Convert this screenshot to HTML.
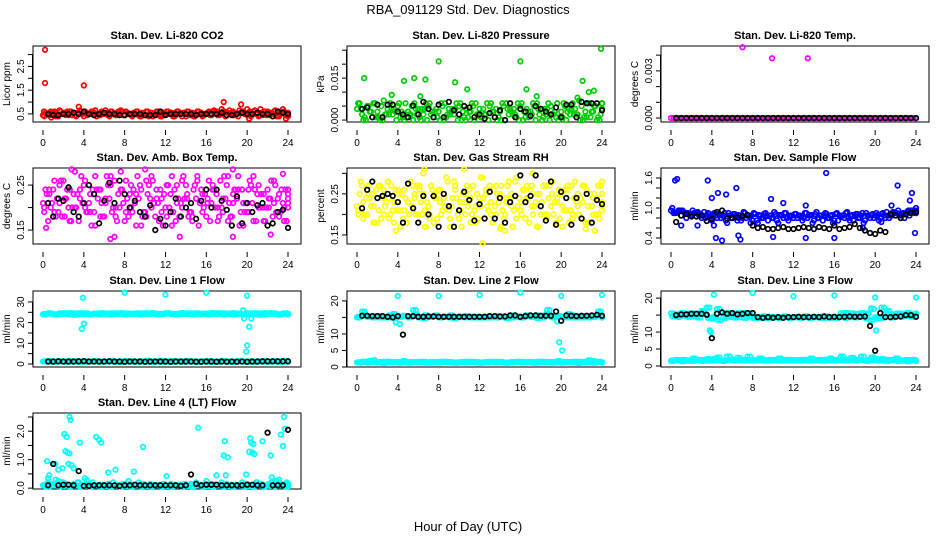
<!DOCTYPE html>
<html><head><meta charset="utf-8"><style>
html,body{margin:0;padding:0;background:#fff;}
svg{display:block;font-family:"Liberation Sans",Arial,sans-serif;}
</style></head><body>
<svg id="chart" width="936" height="540" viewBox="0 0 936 540" xmlns="http://www.w3.org/2000/svg">
<text x="468" y="14" font-size="13" text-anchor="middle">RBA_091129  Std. Dev. Diagnostics</text>
<text x="468" y="531" font-size="13" text-anchor="middle">Hour of Day (UTC)</text>
</svg>
<script>
// ---------- data ----------
const xTicks = [0,4,8,12,16,20,24];
// CO2 panel
const co2Red1 = [0.45,0.5,0.55,0.4,0.5,0.45,0.55,0.5,0.4,0.5,0.55,0.45,0.5,0.4,0.5,0.55,0.45,0.5,0.5,0.4,0.45,0.55,0.5,0.4,0.5,0.55,0.45,0.5,0.4,0.5,0.45,0.55,0.5,0.45,0.6,0.5,0.45,0.55,0.5,0.6,0.45,0.5,0.55,0.45,0.6,0.5,0.45,0.55,0.5];
const co2Red2 = [0.55,0.6,0.4,0.6,0.45,0.6,0.4,0.6,0.55,0.6,0.4,0.6,0.55,0.6,0.45,0.6,0.55,0.4,0.6,0.55,0.6,0.4,0.6,0.55,0.6,0.4,0.6,0.55,0.6,0.4,0.6,0.45,0.6,0.65,0.45,0.6,0.65,0.45,0.65,0.5,0.6,0.65,0.45,0.6,0.55,0.65,0.6,0.45,0.4];
const co2OutX = [0.1,0.2,0.2,3.5,4.0,17.7,17.5,19.4,20.0,21.3,23.5,23.8,20.2,0.8];
const co2OutY = [0.6,3.2,1.8,0.8,1.7,1.0,0.7,0.9,0.7,0.7,0.7,0.3,0.3,0.35];
const co2Black = [0.5,0.45,0.45,0.5,0.5,0.55,0.5,0.6,0.5,0.45,0.5,0.55,0.5,0.5,0.45,0.45,0.5,0.5,0.5,0.45,0.45,0.45,0.6,0.45,0.5,0.5,0.5,0.5,0.5,0.45,0.5,0.5,0.5,0.5,0.55,0.45,0.45,0.5,0.55,0.5,0.5,0.55,0.5,0.5,0.4,0.6,0.55,0.5];
// Pressure panel
const presGreen1 = [0.004,0.002,0.005,0.001,0.003,0.0,0.004,0.002,0.005,0.001,0.003,0.0,0.004,0.002,0.005,0.001,0.003,0.0,0.004,0.002,0.005,0.001,0.003,0.0,0.004,0.002,0.005,0.001,0.003,0.0,0.004,0.002,0.005,0.001,0.003,0.0,0.004,0.002,0.005,0.001,0.003,0.0,0.004,0.002,0.005,0.001,0.003,0.0,0.004];
const presGreen2 = [0.006,0.001,0.003,0.006,0.0,0.002,0.006,0.003,0.001,0.006,0.002,0.004,0.0,0.006,0.002,0.004,0.006,0.001,0.003,0.006,0.0,0.004,0.006,0.002,0.001,0.006,0.003,0.0,0.006,0.004,0.002,0.006,0.0,0.003,0.006,0.004,0.001,0.006,0.002,0.0,0.006,0.004,0.002,0.007,0.001,0.006,0.005,0.0,0.006];
const presOutX = [0.7,3.4,4.6,5.6,6.2,6.7,8.0,9.6,10.8,16.0,16.6,17.6,21.6,22.1,22.7,23.2,23.9];
const presOutY = [0.015,0.009,0.014,0.015,0.0085,0.0145,0.021,0.0135,0.011,0.021,0.011,0.0085,0.008,0.014,0.01,0.0105,0.0255];
const presBlack = [0.004,0.0045,0.001,0.0055,0.001,0.0055,0.0055,0.003,0.002,0.001,0.0052,0.002,0.0065,0.004,0.001,0.0055,0.001,0.0065,0.0035,0.002,0.005,0.0045,0.001,0.002,0.0005,0.0025,0.001,0.0035,0.0,0.006,0.001,0.004,0.003,0.0015,0.005,0.004,0.003,0.002,0.0045,0.001,0.0055,0.0055,0.001,0.0065,0.006,0.006,0.006,0.0035];
// Li-820 Temp panel
const tempMag = [0,0,0,0,0,0,0,0,0,0,0,0,0,0,0,0,0,0,0,0,0,0,0,0,0,0,0,0,0,0,0,0,0,0,0,0,0,0,0,0,0,0,0,0,0,0,0,0,0];
const tempOutX = [7.0,9.9,13.4];
const tempOutY = [0.0045,0.0038,0.0038];
const tempBlack = [0,0,0,0,0,0,0,0,0,0,0,0,0,0,0,0,0,0,0,0,0,0,0,0,0,0,0,0,0,0,0,0,0,0,0,0,0,0,0,0,0,0,0,0,0,0,0,0];
// Amb box temp panel
const ambMag1 = [0.21,0.17,0.24,0.19,0.26,0.2,0.23,0.17,0.25,0.21,0.19,0.24,0.18,0.22,0.26,0.2,0.17,0.23,0.21,0.25,0.19,0.22,0.18,0.24,0.2,0.23,0.17,0.21,0.25,0.19,0.22,0.24,0.18,0.21,0.23,0.2,0.25,0.18,0.22,0.24,0.19,0.21,0.23,0.2,0.24,0.18,0.22,0.21,0.23];
const ambMag2 = [0.24,0.2,0.18,0.26,0.22,0.17,0.2,0.27,0.19,0.16,0.24,0.21,0.27,0.19,0.17,0.24,0.22,0.19,0.27,0.18,0.23,0.26,0.21,0.16,0.25,0.19,0.22,0.27,0.18,0.24,0.16,0.2,0.26,0.24,0.18,0.27,0.21,0.24,0.16,0.19,0.26,0.24,0.2,0.17,0.22,0.25,0.19,0.24,0.2];
const ambMag3 = [0.19,0.23,0.26,0.21,0.18,0.24,0.28,0.22,0.2,0.23,0.27,0.18,0.22,0.25,0.2,0.28,0.19,0.25,0.23,0.16,0.26,0.2,0.24,0.22,0.18,0.27,0.25,0.2,0.22,0.17,0.26,0.23,0.21,0.25,0.2,0.22,0.17,0.23,0.27,0.21,0.24,0.17,0.25,0.23,0.2,0.21,0.23,0.17,0.22];
const ambOutX = [0.3,2.8,6.6,7.0,10.0,13.4,18.6,18.6,22.3,23.5];
const ambOutY = [0.155,0.285,0.13,0.135,0.285,0.135,0.285,0.135,0.14,0.275];
const ambBlack = [0.21,0.18,0.22,0.215,0.245,0.19,0.18,0.21,0.25,0.23,0.165,0.215,0.255,0.21,0.26,0.23,0.2,0.215,0.19,0.18,0.205,0.15,0.175,0.16,0.19,0.22,0.18,0.2,0.21,0.175,0.215,0.24,0.2,0.24,0.215,0.195,0.16,0.225,0.165,0.21,0.19,0.205,0.21,0.16,0.165,0.19,0.195,0.155];
// RH panel
const rhYel1 = [0.22,0.27,0.2,0.25,0.18,0.24,0.28,0.21,0.26,0.19,0.23,0.27,0.2,0.25,0.22,0.18,0.26,0.24,0.21,0.28,0.19,0.23,0.26,0.21,0.24,0.19,0.27,0.22,0.25,0.2,0.24,0.28,0.21,0.19,0.26,0.23,0.2,0.27,0.22,0.18,0.25,0.21,0.27,0.23,0.19,0.26,0.22,0.24,0.28];
const rhYel2 = [0.25,0.2,0.24,0.18,0.27,0.22,0.2,0.26,0.17,0.24,0.28,0.2,0.23,0.17,0.27,0.24,0.2,0.29,0.22,0.24,0.17,0.27,0.2,0.25,0.29,0.22,0.18,0.25,0.21,0.27,0.17,0.22,0.26,0.24,0.2,0.17,0.27,0.24,0.2,0.26,0.21,0.18,0.24,0.2,0.27,0.18,0.25,0.19,0.21];
const rhYel3 = [0.2,0.23,0.27,0.22,0.21,0.26,0.19,0.23,0.25,0.21,0.2,0.25,0.26,0.21,0.19,0.25,0.23,0.22,0.19,0.26,0.23,0.2,0.24,0.18,0.22,0.26,0.23,0.2,0.27,0.23,0.25,0.19,0.23,0.27,0.22,0.25,0.23,0.19,0.25,0.23,0.22,0.27,0.19,0.25,0.23,0.22,0.2,0.27,0.23];
const rhOutX = [3.8,6.5,6.6,10.5,12.3,14.0,14.5,17.2,22.4,23.3];
const rhOutY = [0.16,0.3,0.31,0.31,0.13,0.165,0.16,0.3,0.165,0.16];
const rhBlack = [0.215,0.26,0.28,0.24,0.245,0.25,0.245,0.23,0.18,0.275,0.215,0.18,0.245,0.2,0.245,0.17,0.25,0.22,0.17,0.21,0.255,0.235,0.185,0.225,0.19,0.255,0.19,0.24,0.18,0.23,0.245,0.295,0.23,0.245,0.295,0.22,0.185,0.28,0.175,0.255,0.24,0.175,0.24,0.19,0.25,0.18,0.235,0.225];
// Sample flow panel
const flowBlue1 = [0.95,0.9,0.85,0.8,0.85,0.9,0.8,0.85,0.75,0.8,0.85,0.7,0.8,0.75,0.8,0.85,0.75,0.7,0.8,0.75,0.8,0.7,0.8,0.75,0.8,0.85,0.8,0.85,0.75,0.8,0.85,0.8,0.75,0.85,0.8,0.75,0.85,0.8,0.75,0.8,0.85,0.8,0.8,0.85,0.9,0.85,0.9,0.95,0.9];
const flowBlue2 = [0.9,0.95,0.92,0.88,0.9,0.85,0.92,0.88,0.9,0.86,0.9,0.85,0.88,0.84,0.9,0.82,0.88,0.84,0.9,0.85,0.88,0.86,0.9,0.85,0.88,0.84,0.9,0.86,0.92,0.85,0.88,0.86,0.9,0.85,0.92,0.86,0.88,0.9,0.85,0.88,0.86,0.9,0.85,0.92,0.95,0.9,0.95,0.92,1.0];
const flowOutX = [0.4,0.6,1.0,2.6,3.6,4.0,4.2,4.4,4.6,5.0,5.4,6.4,6.6,6.8,7.8,9.8,10.0,11.0,13.2,13.2,15.2,16.0,18.8,20.6,21.6,22.2,23.4,23.6,23.9];
const flowOutY = [1.55,1.58,0.65,0.65,1.55,1.2,0.65,0.4,1.3,0.35,1.27,1.4,0.45,0.37,0.7,1.18,0.42,1.1,0.4,1.05,1.7,0.4,0.6,0.72,1.05,1.45,1.15,1.3,0.5];
const flowBlack = [0.72,0.85,0.88,0.83,0.83,0.85,0.74,0.78,0.92,0.95,0.79,0.8,0.81,0.84,0.86,0.65,0.6,0.62,0.58,0.58,0.6,0.62,0.58,0.58,0.6,0.62,0.6,0.58,0.62,0.6,0.58,0.65,0.58,0.6,0.62,0.68,0.6,0.55,0.5,0.48,0.55,0.52,0.88,0.85,0.8,0.87,0.9,0.92];
// Line 1 flow
const l1CyanHi = [24,24.5,24,24.2,24.5,24,23.8,24.5,24.2,24,24.4,24,24.2,24,24.5,24.2,24,24.3,24.2,24,24.5,24.2,24.3,24.2,24.5,24.2,24,24.6,24.2,24.4,24.5,24.2,24.4,24.6,24.2,24.5,24.4,24.6,24.2,24,24.5,24.2,24.4,24.6,24.2,24.5,24,24.4,24.2];
const l1CyanLo = [1.2,1.5,1,1.3,1.2,1.5,1.2,1,1.3,1.2,1.5,1.1,1.2,1.3,1.1,1.2,1.5,1.2,1.1,1.3,1.2,1,1.2,1.5,1.2,1.1,1.3,1.2,1.5,1.2,1.1,1.3,1.2,1,1.2,1.5,1.2,1.1,1.3,1.2,1.1,1.2,1.3,1.2,1.1,1.3,1.2,1.2,1.3];
const l1OutX = [3.9,3.8,4.0,8.0,12.0,16.0,20.0,20.0,19.9,20.2,20.3,19.7,19.6,20.4];
const l1OutY = [32,17,19.5,34.5,33.5,34.5,33,9,6,18,24,22,26,22];
const l1Black = [1.2,1.2,1.3,1.2,1.2,1.2,1.3,1.4,1.2,1.2,1.2,1.2,1.3,1.2,1.2,1.1,1.2,1.2,1.2,1.1,1.2,1.2,1.2,1.2,1.1,1.2,1.2,1.2,1.2,1.1,1.1,1.2,1.2,1.1,1.2,1.1,1.2,1.1,1.2,1.1,1.2,1.2,1.3,1.3,1.3,1.3,1.3,1.3];
// Line 2 flow
const l2CyanHi = [15,16.8,15.2,15,15.4,15,15,16,15.2,15.5,15,17.2,15,14.8,15.2,15.4,15,15.2,15,14.8,15.2,15,15.2,15,15,15.2,15,15.4,15.2,15,15.6,15.2,15,15.6,15.2,15.6,15,16,15.2,15.4,15.2,15,15.6,15.2,15,15.4,15.2,15.6,15.2];
const l2CyanLo = [1.4,1.6,1.3,2,1.5,1.2,1.6,1.4,1.5,1.8,1.3,1.5,1.4,1.6,1.3,1.5,1.4,1.6,1.5,1.3,1.4,1.6,1.5,1.4,1.3,1.5,1.6,1.4,1.5,1.3,1.4,1.5,1.6,1.4,1.5,1.3,1.6,1.4,1.5,1.4,1.3,1.5,1.4,1.6,1.5,1.4,1.8,1.5,1.4];
const l2OutX = [3.8,4.2,4.0,8.0,12.0,16.0,20.0,24.0,19.8,20.1,19.6];
const l2OutY = [13.5,13,21.5,21.5,21.8,22.5,21.5,21.8,7.5,5,13.8];
const l2Black = [15.5,15.5,15.4,15.4,15.4,15.2,15,15.4,9.8,15.4,15.4,15.2,15.2,15.3,15.3,15.2,15.2,15.2,15.2,15.2,15.2,15.2,15.2,15.2,15.2,15.4,15.4,15.3,15.3,15.6,15.6,15.2,15.4,15.6,15.6,15.5,15.5,15.5,16.8,14,15.6,15.5,15.4,15.5,15.5,15.6,15.8,15.5];
// Line 3 flow
const l3CyanHi = [15.5,15.2,15.6,15.4,15.5,15.2,16.2,17.2,14,16.8,15.5,15.6,15.4,15.5,15.6,15.5,14.2,14.2,14.6,14.2,14.4,14.2,14.6,14.2,14.4,14.3,14.5,14.2,14.4,14.5,14.2,14.4,14.3,14.6,14.2,14.4,14.3,14.5,14.2,13.5,14.4,14.2,15.4,14.3,14.6,14.5,14.8,14.5,14.6];
const l3CyanLo = [1.5,1.8,1.4,1.6,1.5,1.8,1.5,2,1.6,2.5,1.5,2.8,1.8,2.4,1.6,2.8,1.7,1.6,1.8,1.6,1.7,2.2,1.6,1.8,1.7,1.6,1.8,1.6,1.7,1.8,1.6,2.2,1.7,1.6,1.8,1.7,1.6,1.8,1.6,1.7,2,1.6,1.8,1.7,2.2,1.6,1.8,1.7,1.6];
const l3OutX = [3.8,3.9,4.2,8.0,12.0,16.0,20.0,24.0,20.1,19.6];
const l3OutY = [10.5,10,21,21.5,20.5,20.8,20.2,20.2,10.5,17];
const l3Black = [15,15.2,15.2,15.4,15.4,15.4,15.1,8.2,15.4,15.8,15.4,15.6,15.2,15.4,15.6,15.6,14.4,14.2,14.4,14.2,14.4,14.2,14.4,14.4,14.5,14.4,14.4,14.5,14.4,14.6,14.4,14.5,14.4,14.5,14.6,14.5,14.5,14.6,11.8,4.5,15.6,14.4,14.4,14.5,14.6,15,15,14.5];
// Line 4 flow
const l4CyanA = [0.1,0.2,0.15,0.25,0.2,0.1,0.15,0.2,0.1,0.15,0.1,0.12,0.1,0.15,0.1,0.12,0.1,0.15,0.1,0.12,0.1,0.15,0.1,0.12,0.1,0.15,0.1,0.12,0.1,0.15,0.2,0.12,0.25,0.15,0.1,0.2,0.15,0.12,0.1,0.2,0.15,0.1,0.2,0.12,0.1,0.2,0.15,0.1,0.15];
const l4CyanB = [0.05,0.12,0.3,0.08,0.15,0.05,0.1,0.05,0.08,0.05,0.1,0.05,0.08,0.05,0.1,0.05,0.08,0.05,0.1,0.05,0.08,0.05,0.1,0.05,0.08,0.05,0.1,0.05,0.08,0.05,0.1,0.05,0.08,0.05,0.1,0.05,0.08,0.05,0.1,0.05,0.08,0.05,0.1,0.05,0.08,0.05,0.1,0.05,0.08];
const l4OutX = [0.4,0.6,0.5,1.2,1.5,1.9,2.1,2.2,2.3,2.4,2.6,2.7,2.5,2.6,3.0,2.8,3.6,4.1,4.3,5.2,5.5,5.7,6.4,7.1,8.9,9.8,12.1,15.2,17.0,17.7,17.8,17.9,18.1,19.9,20.2,20.3,20.4,20.5,20.6,20.7,21.5,22.3,22.4,23.3,23.5,23.6,23.7];
const l4OutY = [0.95,0.45,0.35,0.85,0.65,0.7,1.9,1.3,1.8,1.25,2.5,2.4,0.85,1.22,0.7,0.8,1.6,0.35,0.28,1.8,1.7,1.6,0.55,0.65,0.58,1.45,0.42,2.12,0.45,1.15,1.65,0.45,1.08,0.48,1.28,1.75,1.6,1.25,1.55,1.2,1.65,1.15,0.38,1.88,1.48,2.5,2.08];
const l4Black = [0.1,0.85,0.1,0.12,0.12,0.1,0.6,0.08,0.08,0.1,0.1,0.1,0.1,0.1,0.08,0.1,0.1,0.12,0.1,0.1,0.1,0.1,0.1,0.1,0.1,0.1,0.08,0.1,0.48,0.15,0.1,0.12,0.12,0.12,0.1,0.1,0.1,0.1,0.1,0.12,0.12,0.1,0.1,1.95,0.1,0.1,0.1,2.05];

// ---------- drawing ----------
const svg = document.getElementById('chart');
const NS = 'http://www.w3.org/2000/svg';
const halfHours = Array.from({length:49},(_,i)=>i*0.5);
const quarterHours = Array.from({length:49},(_,i)=>Math.min(24,i*0.5+0.25));
const eighthHours = Array.from({length:49},(_,i)=>Math.min(24,i*0.5+0.12));
const threeEighthHours = Array.from({length:49},(_,i)=>Math.min(24,i*0.5+0.37));
const blackHours = Array.from({length:48},(_,i)=>i*0.5+0.5);
const colX = [33,347,661], rowY = [46,168,291,413], PW = 268, PH = 76;

function mk(tag, attrs, parent){
  const e = document.createElementNS(NS, tag);
  for (const k in attrs) e.setAttribute(k, attrs[k]);
  (parent||svg).appendChild(e);
  return e;
}
function panel(col,row,title,ylab,ymin,ymax,yticks,ylabels,slug){
  const x0 = colX[col], y0 = rowY[row];
  const g = mk('g',{});
  
  
  const xs = v => x0 + 10 + v*(PW-23)/24;
  const ys = v => y0 + PH - (v-ymin)/(ymax-ymin)*PH;
  const box = mk('rect',{x:x0,y:y0,width:PW,height:PH,fill:'none',stroke:'#000','stroke-width':1},g);
  
  
  const t = mk('text',{x:x0+PW/2,y:y0-7,'font-size':11,'font-weight':'bold','text-anchor':'middle'},g);
  t.textContent = title;
  
  
  const yt = mk('text',{x:0,y:0,'font-size':10,'text-anchor':'middle',transform:`translate(${x0-23},${y0+PH/2}) rotate(-90)`},g);
  yt.textContent = ylab;
  
  
  mk('line',{x1:x0-0.5,x2:x0-0.5,y1:ys(yticks[0]),y2:ys(yticks[yticks.length-1]),stroke:'#000'},g);
  yticks.forEach(v=>{
    mk('line',{x1:x0-5,x2:x0,y1:ys(v),y2:ys(v),stroke:'#000'},g);
  });
  ylabels.forEach(a=>{
    const l = mk('text',{x:0,y:0,'font-size':10,'text-anchor':'middle',transform:`translate(${x0-9},${ys(a[0])}) rotate(-90)`},g);
    l.textContent = a[1];
    
    
  });
  xTicks.forEach(v=>{
    mk('line',{x1:xs(v),x2:xs(v),y1:y0+PH+8,y2:y0+PH+13,stroke:'#000'},g);
    const l = mk('text',{x:xs(v),y:y0+PH+24,'font-size':10,'text-anchor':'middle'},g);
    l.textContent = String(v);
    
    
  });
  const pts = mk('g',{},g);
  
  
  const api = {
    pts:(hours,vals,color)=>{
      vals.forEach((v,i)=>{
        if (hours[i]===undefined) return;
        const c = mk('circle',{cx:xs(hours[i]),cy:ys(v),r:2.3,fill:'none',stroke:color,'stroke-width':1.7},pts);
        
        
      });
    },
    cloud:(a,b,color)=>{
      api.pts(halfHours,a,color);
      api.pts(quarterHours,b,color);
      api.pts(eighthHours,b.slice().reverse(),color);
      api.pts(threeEighthHours,a.slice().reverse(),color);
    }
  };
  return api;
}

let p;
p = panel(0,0,'Stan. Dev. Li-820 CO2','Licor ppm',0.16,3.36,[0.5,1,1.5,2,2.5,3],[[0.5,'0.5'],[1.5,'1.5'],[2.5,'2.5']],'co2');
p.cloud(co2Red1,co2Red2,'#f00'); p.pts(co2OutX,co2OutY,'#f00'); p.pts(blackHours,co2Black,'#000');

p = panel(1,0,'Stan. Dev. Li-820 Pressure','kPa',-0.0007,0.0265,[0,0.005,0.01,0.015,0.02,0.025],[[0,'0.000'],[0.015,'0.015']],'pressure');
p.cloud(presGreen1,presGreen2,'#0c0'); p.pts(presOutX,presOutY,'#0c0'); p.pts(blackHours,presBlack,'#000');

p = panel(2,0,'Stan. Dev. Li-820 Temp.','degrees C',-0.00025,0.00458,[0,0.001,0.002,0.003,0.004],[[0,'0.000'],[0.003,'0.003']],'li820-temp');
p.pts(halfHours,tempMag,'#f0f'); p.pts(quarterHours,tempMag,'#f0f'); p.pts(tempOutX,tempOutY,'#f0f'); p.pts(blackHours,tempBlack,'#000');

p = panel(0,1,'Stan. Dev. Amb. Box Temp.','degrees C',0.119,0.288,[0.15,0.2,0.25],[[0.15,'0.15'],[0.25,'0.25']],'amb-temp');
p.cloud(ambMag1,ambMag2,'#f0f'); p.pts(eighthHours,ambMag3,'#f0f'); p.pts(ambOutX,ambOutY,'#f0f'); p.pts(blackHours,ambBlack,'#000');

p = panel(1,1,'Stan. Dev. Gas Stream RH','percent',0.128,0.313,[0.15,0.2,0.25,0.3],[[0.15,'0.15'],[0.25,'0.25']],'rh');
p.cloud(rhYel1,rhYel2,'#ff0'); p.pts(eighthHours,rhYel3,'#ff0'); p.pts(rhOutX,rhOutY,'#ff0'); p.pts(blackHours,rhBlack,'#000');

p = panel(2,1,'Stan. Dev. Sample Flow','ml/min',0.28,1.8,[0.4,0.6,0.8,1,1.2,1.4,1.6],[[0.4,'0.4'],[1.0,'1.0'],[1.6,'1.6']],'sample-flow');
p.cloud(flowBlue1,flowBlue2,'#00f'); p.pts(flowOutX,flowOutY,'#00f'); p.pts(blackHours,flowBlack,'#000');

p = panel(0,2,'Stan. Dev. Line 1 Flow','ml/min',-1.45,35.3,[0,5,10,15,20,25,30],[[0,'0'],[10,'10'],[20,'20'],[30,'30']],'line1');
p.cloud(l1CyanHi,l1CyanHi,'#0ff'); p.cloud(l1CyanLo,l1CyanLo,'#0ff'); p.pts(l1OutX,l1OutY,'#0ff'); p.pts(blackHours,l1Black,'#000');

p = panel(1,2,'Stan. Dev. Line 2 Flow','ml/min',0,23.0,[0,5,10,15,20],[[0,'0'],[5,'5'],[10,'10'],[20,'20']],'line2');
p.cloud(l2CyanHi,l2CyanHi,'#0ff'); p.cloud(l2CyanLo,l2CyanLo,'#0ff'); p.pts(l2OutX,l2OutY,'#0ff'); p.pts(blackHours,l2Black,'#000');

p = panel(2,2,'Stan. Dev. Line 3 Flow','ml/min',-0.3,22.1,[0,5,10,15,20],[[0,'0'],[5,'5'],[10,'10'],[20,'20']],'line3');
p.cloud(l3CyanHi,l3CyanHi,'#0ff'); p.cloud(l3CyanLo,l3CyanLo,'#0ff'); p.pts(l3OutX,l3OutY,'#0ff'); p.pts(blackHours,l3Black,'#000');

p = panel(0,3,'Stan. Dev. Line 4 (LT) Flow','ml/min',-0.03,2.64,[0,0.5,1,1.5,2,2.5],[[0,'0.0'],[1,'1.0'],[2,'2.0']],'line4');
p.cloud(l4CyanA,l4CyanB,'#0ff'); p.pts(l4OutX,l4OutY,'#0ff'); p.pts(blackHours,l4Black,'#000');
</script>
</body></html>
